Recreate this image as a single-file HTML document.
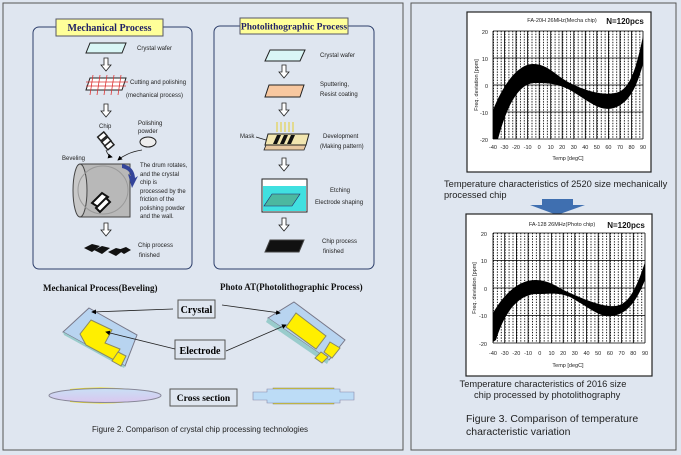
<!DOCTYPE html>
<html><head><meta charset="utf-8"><style>
html,body{margin:0;padding:0;background:#fff}
svg{display:block}
.s{font-family:"Liberation Sans",sans-serif}
.r{font-family:"Liberation Serif",serif;font-weight:bold}
</style></head><body>
<svg width="681" height="455" viewBox="0 0 681 455" xmlns="http://www.w3.org/2000/svg">
<defs>
<marker id="ah" markerWidth="6" markerHeight="6" refX="5" refY="3" orient="auto"><path d="M0,0 L6,3 L0,6 z" fill="#000"/></marker>
<pattern id="g1" x="493" y="31" width="3.85" height="5.4" patternUnits="userSpaceOnUse"><path d="M0.5,0 V5.4" stroke="#000" stroke-width="0.9" stroke-dasharray="1.3,1.4"/></pattern>
<pattern id="g2" x="493" y="233" width="3.9" height="5.5" patternUnits="userSpaceOnUse"><path d="M0.5,0 V5.5" stroke="#000" stroke-width="0.9" stroke-dasharray="1.3,1.4"/></pattern>
<linearGradient id="el" x1="0" y1="0" x2="0" y2="1"><stop offset="0" stop-color="#c9e0f5"/><stop offset="1" stop-color="#d9c6ef"/></linearGradient>
</defs>
<rect width="681" height="455" fill="#dfe6f0"/>
<rect x="3" y="3" width="400" height="447" fill="#dfe6f0" stroke="#555" stroke-width="1"/>
<rect x="411" y="3" width="265" height="447" fill="#dfe6f0" stroke="#555" stroke-width="1"/>

<rect x="33" y="27" width="159" height="242" rx="6" fill="#dfe6f0" stroke="#2c3e6a" stroke-width="1"/>
<rect x="214" y="26" width="160" height="243" rx="6" fill="#dfe6f0" stroke="#2c3e6a" stroke-width="1"/>
<rect x="56" y="19" width="107" height="17" fill="#ffff99" stroke="#556" stroke-width="1"/>
<text x="109.5" y="31" text-anchor="middle" class="r" font-size="10" fill="#222266">Mechanical Process</text>
<rect x="240" y="18" width="108" height="16" fill="#ffff99" stroke="#556" stroke-width="1"/>
<text x="294" y="29.5" text-anchor="middle" class="r" font-size="9.5" fill="#222266">Photolithographic Process</text>

<g class="s" font-size="6" fill="#222">
<polygon points="90,43 126,43 122,53 86,53" fill="#d9f6f6" stroke="#222" stroke-width="1"/>
<text x="137" y="50">Crystal wafer</text>
<polygon points="90,78 126,78 122,90 86,90" fill="#fff" stroke="#222" stroke-width="1"/>
<g stroke="#d33" stroke-width="0.8"><line x1="86" y1="82" x2="128" y2="82"/><line x1="86" y1="86" x2="126" y2="86"/><line x1="93" y1="75" x2="90" y2="95"/><line x1="100" y1="75" x2="97" y2="95"/><line x1="107" y1="75" x2="104" y2="95"/><line x1="114" y1="75" x2="111" y2="95"/><line x1="121" y1="75" x2="118" y2="95"/></g>
<text x="130" y="84">Cutting and polishing</text>
<text x="126" y="97">(mechanical process)</text>
<text x="99" y="128">Chip</text>
<text x="138" y="125">Polishing</text><text x="138" y="133">powder</text>
<ellipse cx="148" cy="142" rx="8" ry="5" fill="#eee" stroke="#222"/>
<g fill="#fff" stroke="#222" stroke-width="1.5"><rect x="98" y="134" width="8" height="5" transform="rotate(-40 102 136)"/><rect x="102" y="139" width="8" height="5" transform="rotate(-40 106 141)"/><rect x="105" y="143" width="8" height="5" transform="rotate(-40 109 145)"/></g>
<path d="M106,150 Q108,156 112,157" stroke="#222" fill="none" stroke-width="0.8" marker-end="url(#ah)"/>
<path d="M142,150 Q128,152 118,160" stroke="#222" fill="none" stroke-width="0.8" marker-end="url(#ah)"/>
<text x="62" y="160">Beveling</text>
<path d="M80,164 L130,164 L130,217 L80,217 Z" fill="#b8b8b8" stroke="#444"/>
<ellipse cx="80" cy="190.5" rx="7" ry="26.5" fill="#c8c8c8" stroke="#444"/>
<ellipse cx="103" cy="190" rx="25" ry="24" fill="none" stroke="#999"/>
<path d="M122,164 Q134,166 135,178 L138,176 L132,188 L128,174 L131,176 Q130,170 122,168 Z" fill="#33449a"/>
<g stroke="#111" stroke-width="2" fill="#fff"><polygon points="92,203 102,193 108,197 98,207"/><polygon points="96,208 106,198 110,202 100,212"/></g>
<text x="140" y="167">The drum rotates,</text>
<text x="140" y="176">and the crystal</text>
<text x="140" y="184">chip is</text>
<text x="140" y="193">processed by the</text>
<text x="140" y="201">friction of the</text>
<text x="140" y="210">polishing powder</text>
<text x="140" y="218">and the wall.</text>
<g fill="#111"><polygon points="84,248 92,244 100,246 92,252"/><polygon points="94,250 102,246 110,248 102,254"/><polygon points="108,252 116,248 124,250 116,256"/><polygon points="118,250 126,247 131,250 124,254"/></g>
<text x="138" y="247">Chip process</text><text x="139" y="257">finished</text>

<polygon points="270,50 305,50 300,61 265,61" fill="#d9f6f6" stroke="#222" stroke-width="1"/>
<text x="320" y="57">Crystal wafer</text>
<polygon points="269,85 304,85 300,97 265,97" fill="#f8c8a0" stroke="#222" stroke-width="1"/>
<text x="320" y="86">Sputtering,</text><text x="320" y="96">Resist coating</text>
<g stroke="#e6c800" stroke-width="0.8"><line x1="277" y1="122" x2="277" y2="132"/><line x1="281" y1="122" x2="281" y2="132"/><line x1="285" y1="122" x2="285" y2="132"/><line x1="289" y1="122" x2="289" y2="132"/><line x1="293" y1="122" x2="293" y2="132"/></g>
<polygon points="266,145 306,145 304,150 264,150" fill="#e8c8a0" stroke="#222" stroke-width="0.8"/>
<polygon points="268,134 309,134 306,145 265,145" fill="#f2e6b0" stroke="#222" stroke-width="1"/>
<g fill="#111"><polygon points="277,135 281,135 277,144 273,144"/><polygon points="284,135 288,135 284,144 280,144"/><polygon points="291,135 295,135 291,144 287,144"/></g>
<text x="240" y="138">Mask</text><line x1="256" y1="137" x2="266" y2="140" stroke="#222" stroke-width="0.8"/>
<text x="323" y="138">Development</text><text x="320" y="148">(Making pattern)</text>
<rect x="262" y="179" width="45" height="33" fill="#fff" stroke="#222" stroke-width="1"/>
<rect x="263" y="186" width="43" height="25" fill="#40e0e0"/>
<polygon points="272,194 300,194 292,206 264,206" fill="#4cb8a0" stroke="#226" stroke-width="0.6"/>
<text x="330" y="192">Etching</text><text x="315" y="204">Electrode shaping</text>
<polygon points="270,240 304,240 299,252 265,252" fill="#111" stroke="#444" stroke-width="1"/>
<text x="322" y="243">Chip process</text><text x="323" y="253">finished</text>
</g>

<g fill="#fff" stroke="#222" stroke-width="0.8">
<path id="ha" d="M-2,0 H2 V7 H5 L0,13 L-5,7 H-2 Z" transform="translate(106,58)"/>
<use href="#ha" transform="translate(0,46)"/>
<use href="#ha" transform="translate(0,165)"/>
<use href="#ha" transform="translate(178,7)"/>
<use href="#ha" transform="translate(178,45)"/>
<use href="#ha" transform="translate(178,100)"/>
<use href="#ha" transform="translate(178,160)"/>
</g>

<text x="43" y="291" class="r" font-size="9" fill="#111">Mechanical Process(Beveling)</text>
<text x="220" y="290" class="r" font-size="9" fill="#111">Photo AT(Photolithographic Process)</text>
<rect x="178" y="300" width="37" height="18" fill="#dfe6f0" stroke="#555"/>
<text x="196.5" y="313" text-anchor="middle" class="r" font-size="10">Crystal</text>
<rect x="175" y="340" width="50" height="19" fill="#dfe6f0" stroke="#555"/>
<text x="200" y="354" text-anchor="middle" class="r" font-size="10">Electrode</text>
<rect x="170" y="389" width="67" height="17" fill="#dfe6f0" stroke="#555"/>
<text x="203.5" y="401" text-anchor="middle" class="r" font-size="9.5">Cross section</text>
<polygon points="89,308 137,335 125,366 63,332" fill="#b8d4f0" stroke="#778"/>
<polygon points="63,332 125,366 124,368 64,335" fill="#9cc" />
<polygon points="91,320 112,330 105,343 120,349 114,360 86,345 80,334" fill="#ffef00" stroke="#886"/>
<polygon points="118,352 126,356 121,366 112,361" fill="#ffef00" stroke="#886"/>
<line x1="173" y1="309" x2="92" y2="312" stroke="#222" stroke-width="0.8" marker-end="url(#ah)"/>
<line x1="175" y1="349" x2="106" y2="332" stroke="#222" stroke-width="0.8" marker-end="url(#ah)"/>
<polygon points="294,302 345,340 329,360 268,318" fill="#b8d4f0" stroke="#778"/>
<polygon points="268,318 329,360 327,364 266,322" fill="#9cc"/>
<polygon points="296,313 326,336 316,349 286,327" fill="#ffef00" stroke="#886"/>
<polygon points="330,342 340,348 332,358 324,352" fill="#ffef00" stroke="#886"/>
<polygon points="321,352 328,357 322,363 315,358" fill="#ffef00" stroke="#886"/>
<line x1="222" y1="305" x2="280" y2="313" stroke="#222" stroke-width="0.8" marker-end="url(#ah)"/>
<line x1="226" y1="351" x2="286" y2="325" stroke="#222" stroke-width="0.8" marker-end="url(#ah)"/>
<path d="M70,389 Q100,386 130,389 L130,402 Q100,405 70,402 Z" fill="#f4e000"/>
<ellipse cx="105" cy="395.5" rx="56" ry="7" fill="url(#el)" stroke="#889"/>
<rect x="273" y="388" width="61" height="16" fill="#f4e000" stroke="#886" stroke-width="0.5"/>
<path d="M253,392 H267 V389 H340 V392 H354 V400 H340 V403 H267 V400 H253 Z" fill="#bcdcf6" stroke="#88a" stroke-width="0.6"/>
<text x="200" y="432" text-anchor="middle" class="s" font-size="8" fill="#222">Figure 2. Comparison of crystal chip processing technologies</text>

<!-- chart 1 -->
<rect x="467" y="12" width="184" height="160" fill="#fff" stroke="#222" stroke-width="1.2"/>
<rect x="493" y="31" width="150" height="108" fill="url(#g1)"/>
<g stroke="#000" stroke-width="0.8">
<path d="M493,31 V139 M504.5,31V139 M516,31V139 M527.6,31V139 M539.2,31V139 M550.7,31V139 M562.2,31V139 M573.8,31V139 M585.3,31V139 M596.8,31V139 M608.4,31V139 M620,31V139 M631.5,31V139 M643,31V139"/>
<path d="M493,31H643 M493,58H643 M493,85H643 M493,112H643 M493,139H643"/>
</g>
<path d="M493,110 C505,80 520,64 533,64 C548,64 556,76 570,83 C590,93 605,95 615,93 C628,91 635,75 643,36 L643,64 C636,90 628,103 614,108 C600,112 590,102 570,90 C558,84 550,83 535,83 C520,83 508,102 498,139 L493,139 Z" fill="#000"/>
<g class="s" font-size="5.5" fill="#222" text-anchor="middle">
<text x="562" y="22">FA-20H 26MHz(Mecha chip)</text>
<text x="488" y="34" text-anchor="end">20</text><text x="488" y="61" text-anchor="end">10</text><text x="488" y="88" text-anchor="end">0</text><text x="488" y="115" text-anchor="end">-10</text><text x="488" y="142" text-anchor="end">-20</text>
<text x="493" y="149">-40</text><text x="504.5" y="149">-30</text><text x="516" y="149">-20</text><text x="527.6" y="149">-10</text><text x="539.2" y="149">0</text><text x="550.7" y="149">10</text><text x="562.2" y="149">20</text><text x="573.8" y="149">30</text><text x="585.3" y="149">40</text><text x="596.8" y="149">50</text><text x="608.4" y="149">60</text><text x="620" y="149">70</text><text x="631.5" y="149">80</text><text x="643" y="149">90</text>
<text x="568" y="160">Temp [degC]</text>
<text transform="translate(478,85) rotate(-90)">Freq. deviation [ppm]</text>
</g>
<text x="625" y="24" text-anchor="middle" class="s" font-weight="bold" font-size="8" fill="#111">N=120pcs</text>
<text x="444" y="187" class="s" font-size="9.3" fill="#222">Temperature characteristics of 2520 size mechanically</text>
<text x="444" y="198" class="s" font-size="9.3" fill="#222">processed chip</text>
<polygon points="542,199 573,199 573,205 585,205 557,215 530,205 542,205" fill="#3f6fb0"/>

<!-- chart 2 -->
<rect x="466" y="214" width="186" height="162" fill="#fff" stroke="#222" stroke-width="1.2"/>
<rect x="493" y="233" width="152" height="110" fill="url(#g2)"/>
<g stroke="#000" stroke-width="0.8">
<path d="M493,233V343 M504.7,233V343 M516.4,233V343 M528.1,233V343 M539.8,233V343 M551.5,233V343 M563.2,233V343 M574.8,233V343 M586.5,233V343 M598.2,233V343 M609.9,233V343 M621.6,233V343 M633.3,233V343 M645,233V343"/>
<path d="M493,233H645 M493,260.5H645 M493,288H645 M493,315.5H645 M493,343H645"/>
</g>
<path d="M493,313 C505,292 520,280 535,280 C550,280 558,288 570,293 C590,302 605,307 615,306 C628,305 636,290 645,262 L645,280 C637,300 628,314 612,316 C600,318 590,308 570,297 C558,292 550,294 537,294 C520,294 505,310 496,340 L493,342 Z" fill="#000"/>
<g class="s" font-size="5.5" fill="#222" text-anchor="middle">
<text x="562" y="226">FA-128 26MHz(Photo chip)</text>
<text x="487" y="236" text-anchor="end">20</text><text x="487" y="263" text-anchor="end">10</text><text x="487" y="291" text-anchor="end">0</text><text x="487" y="318" text-anchor="end">-10</text><text x="487" y="346" text-anchor="end">-20</text>
<text x="493" y="355">-40</text><text x="504.7" y="355">-30</text><text x="516.4" y="355">-20</text><text x="528.1" y="355">-10</text><text x="539.8" y="355">0</text><text x="551.5" y="355">10</text><text x="563.2" y="355">20</text><text x="574.8" y="355">30</text><text x="586.5" y="355">40</text><text x="598.2" y="355">50</text><text x="609.9" y="355">60</text><text x="621.6" y="355">70</text><text x="633.3" y="355">80</text><text x="645" y="355">90</text>
<text x="568" y="367">Temp [degC]</text>
<text transform="translate(476,288) rotate(-90)">Freq. deviation [ppm]</text>
</g>
<text x="626" y="228" text-anchor="middle" class="s" font-weight="bold" font-size="8" fill="#111">N=120pcs</text>
<text x="543" y="387" text-anchor="middle" class="s" font-size="9.3" fill="#222">Temperature characteristics of 2016 size</text>
<text x="474" y="398" class="s" font-size="9.3" fill="#222">chip processed by photolithography</text>
<text x="466" y="422" class="s" font-size="10.5" fill="#222">Figure 3. Comparison of temperature</text>
<text x="466" y="435" class="s" font-size="10.5" fill="#222">characteristic variation</text>
</svg>
</body></html>
